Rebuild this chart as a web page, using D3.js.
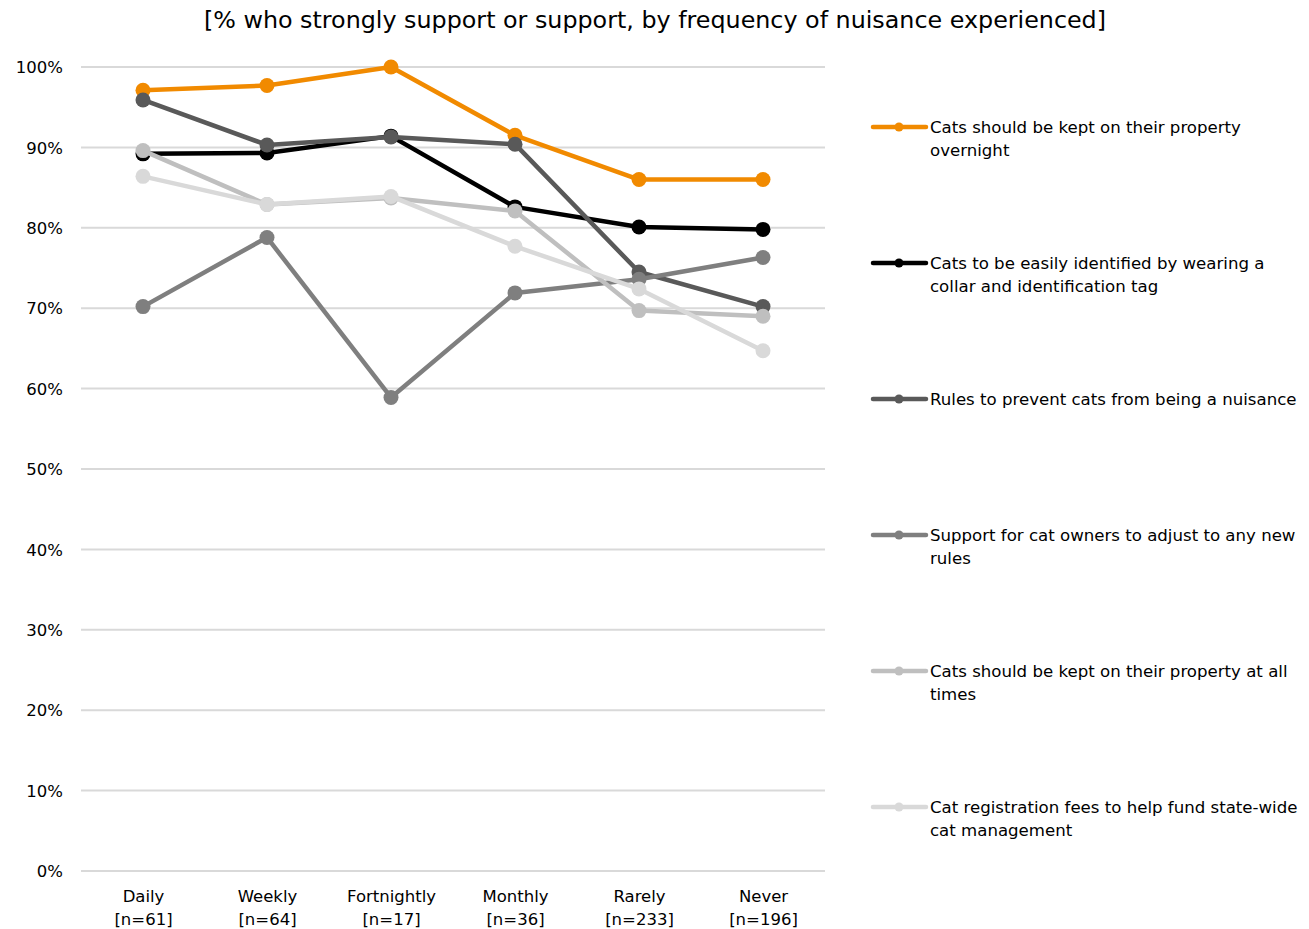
<!DOCTYPE html>
<html><head><meta charset="utf-8">
<script src="https://cdn.jsdelivr.net/npm/d3@7"></script>
<style>body{margin:0;background:#fff;} svg{display:block;} text{font-family:"DejaVu Sans",sans-serif;fill:#000;}</style>
</head><body>
<svg id="c" width="1309" height="929"></svg>
<script>
const categories = ["Daily","Weekly","Fortnightly","Monthly","Rarely","Never"];
const sampleSizes = ["[n=61]","[n=64]","[n=17]","[n=36]","[n=233]","[n=196]"];
const seriesNames = [
  "Cats should be kept on their property overnight",
  "Cats to be easily identified by wearing a collar and identification tag",
  "Rules to prevent cats from being a nuisance",
  "Support for cat owners to adjust to any new rules",
  "Cats should be kept on their property at all times",
  "Cat registration fees to help fund state-wide cat management"
];
const legendLines = [
  ["Cats should be kept on their property","overnight"],
  ["Cats to be easily identified by wearing a","collar and identification tag"],
  ["Rules to prevent cats from being a nuisance"],
  ["Support for cat owners to adjust to any new","rules"],
  ["Cats should be kept on their property at all","times"],
  ["Cat registration fees to help fund state-wide","cat management"]
];
const overnight   = [97.1, 97.7, 100.0, 91.5, 86.0, 86.0];
const identified  = [89.2, 89.3, 91.4, 82.6, 80.1, 79.8];
const rules       = [95.9, 90.3, 91.3, 90.4, 74.5, 70.2];
const supportOwn  = [70.2, 78.8, 58.9, 71.9, 73.6, 76.3];
const allTimes    = [89.6, 82.9, 83.7, 82.1, 69.7, 69.0];
const regFees     = [86.4, 82.9, 83.9, 77.7, 72.4, 64.7];
const seriesValues = [overnight, identified, rules, supportOwn, allTimes, regFees];
const colors = ["#f18a00","#000000","#595959","#7f7f7f","#bfbfbf","#d9d9d9"];
const yTicks = [0,10,20,30,40,50,60,70,80,90,100];
const title = "[% who strongly support or support, by frequency of nuisance experienced]";

const svg = d3.select("#c");
const x = d3.scalePoint().domain(categories).range([143, 763]);
const y = d3.scaleLinear().domain([0,100]).range([871, 67]);
const plotL = 81, plotR = 825;

svg.append("text").attr("x", 655).attr("y", 28).attr("text-anchor","middle")
  .style("font-size","23.8px").text(title);

// gridlines
svg.append("g").selectAll("line").data(yTicks).join("line")
  .attr("x1", plotL).attr("x2", plotR)
  .attr("y1", d=>y(d)).attr("y2", d=>y(d))
  .attr("stroke","#d9d9d9").attr("stroke-width",2);

// y axis labels
const yAxis = d3.axisLeft(y).tickValues(yTicks).tickFormat(d=>d+"%").tickSize(0).tickPadding(0);
const ya = svg.append("g").attr("transform","translate(63,0)").call(yAxis);
ya.select(".domain").remove();
ya.selectAll("text").style("font-size","16.5px").style("font-family",'"DejaVu Sans",sans-serif').attr("fill","#000").attr("dy","0.35em");

// x axis labels
const xAxis = d3.axisBottom(x).tickSize(0).tickPadding(0).tickFormat(()=>"");
const xa = svg.append("g").attr("transform","translate(0,871)").call(xAxis);
xa.select(".domain").remove();
xa.selectAll(".tick").each(function(d,i){
  const t = d3.select(this).append("text").attr("text-anchor","middle").style("font-size","16.5px").attr("fill","#000");
  t.append("tspan").attr("x",0).attr("y",31).text(d);
  t.append("tspan").attr("x",0).attr("y",54).text(sampleSizes[i]);
});

// lines
const line = d3.line().x((d,i)=>x(categories[i])).y(d=>y(d));
seriesValues.forEach((vals, s) => {
  const g = svg.append("g");
  g.append("path").datum(vals).attr("d", line).attr("fill","none")
    .attr("stroke", colors[s]).attr("stroke-width",4.5).attr("stroke-linejoin","round");
  g.selectAll("circle").data(vals).join("circle")
    .attr("cx",(d,i)=>x(categories[i])).attr("cy",d=>y(d)).attr("r",7.5).attr("fill",colors[s]);
});

// legend
const legY = [127, 263, 399, 535, 671, 807];
seriesNames.forEach((name, s) => {
  const g = svg.append("g").attr("transform",`translate(0,${legY[s]})`);
  g.append("line").attr("x1",873).attr("x2",926).attr("y1",0).attr("y2",0)
    .attr("stroke",colors[s]).attr("stroke-width",4.5).attr("stroke-linecap","round");
  g.append("circle").attr("cx",899).attr("cy",0).attr("r",4.5).attr("fill",colors[s]);
  const t = g.append("text").style("font-size","16.6px");
  legendLines[s].forEach((ln, k) => {
    t.append("tspan").attr("x",930).attr("y", k*23).attr("dy","0.35em").text(ln);
  });
});
</script>
</body></html>
